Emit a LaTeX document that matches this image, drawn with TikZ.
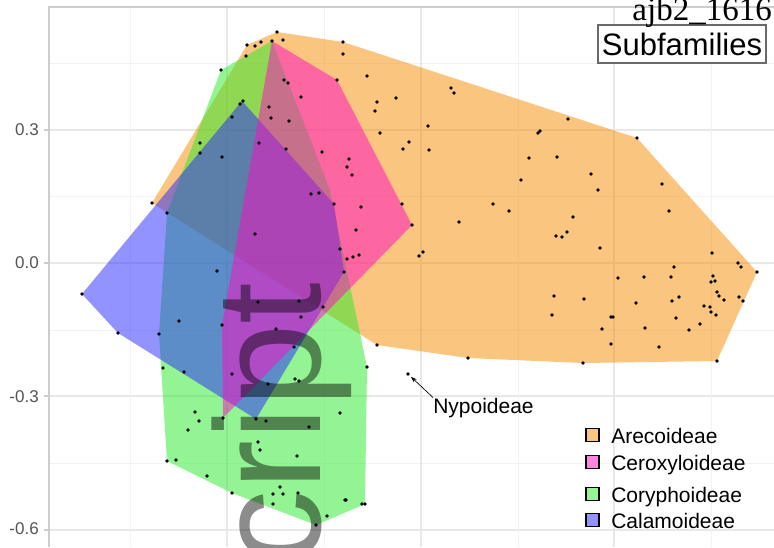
\documentclass[tikz,border=0pt]{standalone}
\usepackage{fontspec}
\setmainfont{Liberation Sans}
\newfontfamily\serifjb{Liberation Serif}
\usetikzlibrary{arrows.meta}
\definecolor{orangeC}{RGB}{245,140,0}
\definecolor{greenC}{RGB}{40,235,40}
\definecolor{blueC}{RGB}{40,40,255}
\definecolor{magC}{RGB}{255,10,195}
\definecolor{gridmaj}{RGB}{232,232,232}
\definecolor{gridmin}{RGB}{242,242,242}
\definecolor{axisgray}{RGB}{205,205,205}
\definecolor{labgray}{RGB}{85,85,85}
\definecolor{boxgray}{RGB}{105,105,105}
\tikzset{
  hull/.style={fill opacity=0.5, draw=none},
  gmaj/.style={draw=gridmaj, line width=0.9pt},
  gmin/.style={draw=gridmin, line width=0.6pt},
  ticklab/.style={anchor=east, inner sep=0pt, text=labgray, font=\fontsize{12.75}{13}\selectfont},
  keybox/.style={draw=black, line width=1.1pt, minimum size=9.5pt, inner sep=0pt},
  keylab/.style={anchor=base west, inner sep=0pt, font=\fontsize{15.75}{16}\selectfont},
  dot/.style={fill=black}
}
\begin{document}
\begin{tikzpicture}[x=0.75pt,y=-0.75pt]
\useasboundingbox (0,0) rectangle (774,547);
\fill[white] (0,0) rectangle (774,547);
% grid
\foreach \y in {63,196,330,463} \draw[gmin] (49,\y) -- (774,\y);
\foreach \y in {130,263,396,530} \draw[gmaj] (49,\y) -- (774,\y);
\foreach \x in {130,324,518,711} \draw[gmin] (\x,7) -- (\x,547);
\foreach \x in {227,421,614} \draw[gmaj] (\x,7) -- (\x,547);
% panel border
\draw[axisgray, line width=0.9pt] (49,547) -- (49,7) -- (774,7);
% ticks and labels
\foreach \y/\t in {130/0.3,263/0.0,396/-0.3,530/-0.6}{
  \draw[axisgray, line width=0.8pt] (44,\y) -- (49,\y);
}
\node[ticklab] (t1) at (39,130) {0.3};
\node[ticklab] (t2) at (39,263) {0.0};
\node[ticklab] (t3) at (39,397) {-0.3};
\node[ticklab] (t4) at (39,529) {-0.6};
% hulls
\fill[hull, orangeC] (152,203) -- (247,45) -- (277,32) -- (343,42) -- (637,138) -- (757,272) -- (717,361) -- (583,363) -- (468,358) -- (377,345) -- cycle;
\fill[hull, greenC] (221,70) -- (272,41) -- (330,190) -- (367,367) -- (365,504) -- (316,525) -- (232,493) -- (167,461) -- (159,334) -- (167,213) -- cycle;
\fill[hull, blueC] (82,294) -- (242,101) -- (334,204) -- (344,272) -- (256,419) -- (118,333) -- cycle;
\fill[hull, magC] (272,41) -- (337,80) -- (412,225) -- (223,418) -- (222,325) -- cycle;
% points
\foreach \p in {(277,32),(247,45),(255,46),(261,42),(272,41),(283,40),(343,42),(343,54),(246,56),(221,70),(284,80),(288,83),(337,80),(367,76),(301,97),(243,101),(240,104),(269,107),(271,118),(289,121),(232,117),(377,102),(375,111),(396,98),(428,126),(380,133),(409,142),(403,149),(429,150),(200,143),(200,153),(222,157),(259,143),(286,149),(322,152),(349,159),(347,167),(352,175),(311,194),(319,193),(334,204),(361,207),(402,204),(152,203),(167,213),(412,225),(255,234),(356,230),(340,249),(347,259),(353,257),(359,255),(419,256),(423,252),(217,271),(344,272),(82,294),(258,302),(299,301),(323,307),(301,317),(179,321),(222,325),(276,329),(118,333),(159,334)}
  \fill[dot] \p circle[radius=1.4pt];
\foreach \p in {(451,88),(454,93),(568,119),(540,131),(538,133),(637,138),(529,158),(557,157),(521,180),(591,174),(598,190),(662,184),(493,204),(509,211),(573,217),(669,211),(459,222),(556,236),(562,237),(567,232),(600,248),(712,253),(738,263),(741,267),(757,272),(674,267),(671,277),(644,277),(618,278),(713,276),(715,281),(711,282),(717,292),(719,296),(724,300),(739,297),(743,301),(679,297),(672,301),(636,303),(554,296),(584,299),(704,306),(710,307),(711,312),(716,315),(552,315),(611,317),(613,317),(676,318),(700,324),(689,330),(602,329),(645,328),(611,344),(659,347),(717,361),(583,363),(468,358)}
  \fill[dot] \p circle[radius=1.4pt];
\foreach \p in {(294,347),(377,345),(163,368),(184,372),(367,367),(232,374),(295,379),(299,381),(268,384),(195,412),(199,421),(188,430),(223,418),(256,419),(266,421),(340,413),(309,427),(258,442),(260,450),(297,456),(167,461),(176,460),(207,476),(232,493),(280,487),(273,494),(283,494),(298,493),(273,504),(345,500),(346,500),(362,504),(365,504),(327,516),(316,525)}
  \fill[dot] \p circle[radius=1.4pt];
% watermark
\begin{scope}
\clip (0,0) rectangle (774,547);
\node[rotate=90, anchor=base west, inner sep=0pt, text=black, text opacity=0.45, font=\fontsize{112.5}{112.5}\selectfont] (wm) at (320,566) {cript};
\end{scope}
% Nypoideae
\node[circle, fill=black, inner sep=0pt, minimum size=2.8pt] (nyp) at (408,374) {};
\node[anchor=base west, inner sep=0pt, font=\fontsize{15.75}{16}\selectfont] (nyplab) at (433,413) {Nypoideae};
\draw[line width=0.5pt, -{Stealth[length=4.5pt,width=3.2pt]}, shorten >=1.5pt] (nyplab.north west) -- (nyp);
% legend
\node[keybox, fill=orangeC!50] (k1) at (592.5,435) {};
\node[keybox, fill=magC!50] (k2) at (592.5,462) {};
\node[keybox, fill=greenC!50] (k3) at (592.5,494) {};
\node[keybox, fill=blueC!50] (k4) at (592.5,520) {};
\node[keylab] (l1) at (611,443) {Arecoideae};
\node[keylab] (l2) at (611,470) {Ceroxyloideae};
\node[keylab] (l3) at (611,502) {Coryphoideae};
\node[keylab] (l4) at (611,528) {Calamoideae};
% title box
\node[draw=boxgray, line width=1.1pt, fill=white, minimum width=126pt, minimum height=28.5pt, inner sep=0pt, font=\fontsize{23.25}{24}\selectfont] (sub) at (682,44) {Subfamilies};
\node[anchor=base east, inner sep=0pt, font=\serifjb\fontsize{24.75}{25}\selectfont] (ajb) at (772,20) {ajb2\_1616};
\end{tikzpicture}
\end{document}
